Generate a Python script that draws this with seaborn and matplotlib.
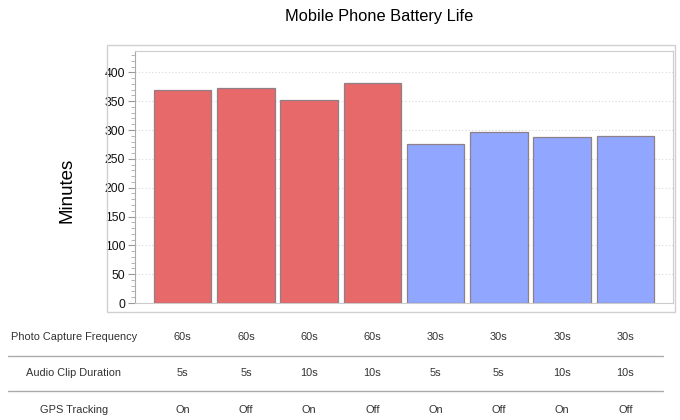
import matplotlib
matplotlib.use("Agg")
import matplotlib.pyplot as plt
import matplotlib.transforms as mtransforms
from matplotlib.lines import Line2D
from matplotlib.patches import Rectangle
from matplotlib.ticker import MultipleLocator
import seaborn as sns
import pandas as pd

# ---- data ----
config_ids = ["c1", "c2", "c3", "c4", "c5", "c6", "c7", "c8"]
minutes = [369, 372, 352, 381, 276, 297, 287, 290]
photo_freq = ["60s", "60s", "60s", "60s", "30s", "30s", "30s", "30s"]
audio_dur = ["5s", "5s", "10s", "10s", "5s", "5s", "10s", "10s"]
gps = ["On", "Off", "On", "Off", "On", "Off", "On", "Off"]
row_labels = ["Photo Capture Frequency", "Audio Clip Duration", "GPS Tracking"]
y_ticks = [0, 50, 100, 150, 200, 250, 300, 350, 400]

df = pd.DataFrame({"config": config_ids, "minutes": minutes, "photo": photo_freq})

sns.set_theme(style="white")
plt.rcParams["font.family"] = ["Liberation Sans", "DejaVu Sans"]

fig = plt.figure(figsize=(6.8, 4.2), dpi=100)
W, H = 680, 420
ax = fig.add_axes([135 / W, 1 - 303 / H, (673 - 135) / W, (303 - 51) / H])

sns.barplot(data=df, x="config", y="minutes", hue="photo", order=config_ids,
            palette={"60s": "#E8696A", "30s": "#91A6FE"}, dodge=False,
            width=0.91, edgecolor="#8f7f86", linewidth=0.9, legend=False,
            saturation=1, ax=ax, zorder=3)

ax.set_xlim(-0.755, 7.755)
ax.set_ylim(0, 437)
ax.set_yticks(y_ticks)
ax.yaxis.set_minor_locator(MultipleLocator(10))
ax.set_xticks([])
ax.set_xlabel("")
ax.set_ylabel("")
ax.tick_params(axis="y", which="major", length=5, width=0.8, color="#999999",
               labelsize=8.8, labelcolor="#111111", pad=2, left=True)
ax.tick_params(axis="y", which="minor", length=3, width=0.6, color="#aaaaaa", left=True)
ax.grid(axis="y", which="major", linestyle=(0, (1, 2)), color="#d8d8d8", linewidth=0.8, zorder=0)
for s in ["top", "right", "bottom"]:
    ax.spines[s].set_color("#cccccc")
    ax.spines[s].set_linewidth(0.8)
ax.spines["left"].set_color("#aaaaaa")
ax.spines["left"].set_linewidth(0.8)

# outer frame
fig.patches.append(Rectangle((107 / W, 1 - 312 / H), (675 - 107) / W, (312 - 45) / H,
                             transform=fig.transFigure, fill=False,
                             edgecolor="#d0d0d0", linewidth=1))

# title and y label
fig.text(379 / W, 1 - 17 / H, "Mobile Phone Battery Life", ha="center", va="center",
         fontsize=11.8, color="#000000")
fig.text(67 / W, 1 - 190 / H, "Minutes", ha="center", va="center", rotation=90,
         fontsize=13.5, color="#000000")

# table below the chart
trans = mtransforms.blended_transform_factory(ax.transData, fig.transFigure)
row_y = [337, 373, 410]
rows = [photo_freq, audio_dur, gps]
for ry, lab, vals in zip(row_y, row_labels, rows):
    fig.text(74 / W, 1 - ry / H, lab, ha="center", va="center", fontsize=7.9, color="#333333")
    for i, v in enumerate(vals):
        ax.text(i, 1 - ry / H, v, transform=trans, ha="center", va="center",
                fontsize=7.9, color="#333333", clip_on=False)
for ly in [355.5, 390.5]:
    fig.add_artist(Line2D([8 / W, 663 / W], [1 - ly / H, 1 - ly / H],
                          transform=fig.transFigure, color="#aaaaaa", linewidth=1))

fig.savefig("out.png", dpi=100)
